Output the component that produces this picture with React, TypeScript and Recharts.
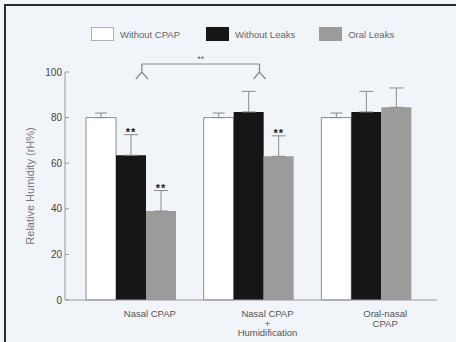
import React from "react";
import {
  BarChart,
  Bar,
  XAxis,
  YAxis,
  ErrorBar,
  Legend,
  ReferenceLine,
  Rectangle,
} from "recharts";

const categories = ["Nasal CPAP", "Nasal CPAP\n+\nHumidification", "Oral-nasal\nCPAP"];
const withoutCpap = [80, 80, 80];
const withoutCpapErr = [2, 2, 2];
const withoutLeaks = [63.5, 82.5, 82.5];
const withoutLeaksErr = [9, 9, 9];
const oralLeaks = [39, 63, 84.5];
const oralLeaksErr = [9, 9, 8.5];
const sigLeaks = ["**", "", ""];
const sigOral = ["**", "**", ""];
const yTicks = [0, 20, 40, 60, 80, 100];
const bracketLevel = 103.5;
const bracketLabel = "**";

const data = categories.map((name, i) => ({
  name,
  cpap: withoutCpap[i],
  cpapErr: [0, withoutCpapErr[i]],
  leaks: withoutLeaks[i],
  leaksErr: [0, withoutLeaksErr[i]],
  oral: oralLeaks[i],
  oralErr: [0, oralLeaksErr[i]],
  sigLeaks: sigLeaks[i],
  sigOral: sigOral[i],
}));

const series = [
  { key: "cpap", name: "Without CPAP", fill: "#ffffff", stroke: "#8c8c8c" },
  { key: "leaks", name: "Without Leaks", fill: "#161616", stroke: "#161616" },
  { key: "oral", name: "Oral Leaks", fill: "#9b9b9b", stroke: "#9b9b9b" },
];

const FONT = '"Liberation Sans", Arial, sans-serif';
const BAR = 30;

// bar with the significance stars sitting over its error whisker
const starBar = (valueKey: string, errKey: string, sigKey: string) => (props: any) => {
  const { x, y, width, height, payload } = props;
  const v = payload[valueKey];
  const ppu = v ? height / v : 0;
  const capY = y + height - (v + payload[errKey][1]) * ppu;
  return (
    <g>
      <Rectangle {...props} />
      {payload[sigKey] ? (
        <text
          x={x + width / 2}
          y={capY + 1}
          textAnchor="middle"
          fontSize={11}
          fontWeight="bold"
          fill="#222"
          fontFamily={FONT}
          letterSpacing={1}
        >
          {payload[sigKey]}
        </text>
      ) : null}
    </g>
  );
};

const Bracket = (props: any) => {
  const { x1, y1, x2 } = props;
  const off = BAR / 2 - 4;
  const a = x1 + off;
  const b = x2 + off;
  const fork = (fx: number) => (
    <path d={`M${fx},${y1} L${fx},${y1 + 8} M${fx - 6},${y1 + 15} L${fx},${y1 + 8} L${fx + 6},${y1 + 15}`} fill="none" stroke="#8c8c8c" strokeWidth={1.3} />
  );
  return (
    <g>
      <line x1={a} y1={y1} x2={b} y2={y1} stroke="#8c8c8c" strokeWidth={1} />
      {fork(a)}
      {fork(b)}
      <text x={(a + b) / 2} y={y1 - 2} textAnchor="middle" fontSize={9} fill="#666" fontFamily={FONT}>
        {bracketLabel}
      </text>
    </g>
  );
};

const CategoryTick = (props: any) => {
  const { x, y, payload } = props;
  const lines = String(payload.value).split("\n");
  return (
    <text x={x + 19} y={y} textAnchor="middle" fontSize={9.5} fill="#555" fontFamily={FONT}>
      {lines.map((l, i) => (
        <tspan key={i} x={x + 19} dy={i === 0 ? 9 : 9.5}>
          {l}
        </tspan>
      ))}
    </text>
  );
};

// ticks point into the plot in the original
const ValueTick = (props: any) => {
  const { x, y, payload } = props;
  return (
    <g>
      <line x1={x + 3} y1={y} x2={x + 7} y2={y} stroke="#9a9a9a" />
      <text x={x} y={y} dy={3.5} textAnchor="end" fontSize={10} fill="#444" fontFamily={FONT}>
        {payload.value}
      </text>
    </g>
  );
};

const LegendBoxes = () => (
  <div style={{ height: 50, display: "flex", alignItems: "flex-start", paddingLeft: 91, fontFamily: FONT }}>
    {series.map((s, i) => (
      <div key={s.key} style={{ display: "flex", alignItems: "center", marginRight: i === 0 ? 26 : 24 }}>
        <div style={{ width: 21, height: 12, background: s.fill, border: `1px solid ${s.stroke === "#8c8c8c" ? "#b0b0b0" : s.stroke}` }} />
        <span style={{ fontSize: 9.5, color: "#666", marginLeft: 6 }}>{s.name}</span>
      </div>
    ))}
  </div>
);

export default function App() {
  return (
    <div style={{ position: "fixed", left: 0, top: 0, width: 456, height: 342, background: "#f1f4f9", overflow: "hidden" }}>
      <div style={{ position: "absolute", left: 4, top: 4, width: 470, height: 360, borderLeft: "2px solid #2b2b2b", borderTop: "2px solid #2b2b2b" }} />
      <BarChart
        width={456}
        height={342}
        data={data}
        margin={{ top: 22, right: 19, bottom: 0, left: 0 }}
        barSize={BAR}
        barGap={0}
        style={{ position: "absolute", left: 0, top: 0 }}
      >
        <Legend verticalAlign="top" wrapperStyle={{ top: 27, left: 0, width: 456 }} content={<LegendBoxes />} />
        <XAxis
          dataKey="name"
          height={42}
          axisLine={{ stroke: "#9a9a9a" }}
          tickLine={false}
          tick={<CategoryTick />}
          padding={{ left: 7, right: 12 }}
          interval={0}
        />
        <YAxis
          width={65}
          domain={[0, 100]}
          ticks={yTicks}
          axisLine={{ stroke: "#9a9a9a" }}
          tickLine={false}
          tickSize={0}
          tickMargin={3}
          tick={<ValueTick />}
          label={{ value: "Relative Humidity (rH%)", angle: -90, position: "center", fontSize: 11, fill: "#777", fontFamily: FONT, dx: -2 }}
        />
        <ReferenceLine
          segment={[
            { x: categories[0], y: bracketLevel },
            { x: categories[1], y: bracketLevel },
          ]}
          ifOverflow="visible"
          shape={<Bracket />}
        />
        <Bar dataKey="cpap" name={series[0].name} fill={series[0].fill} stroke={series[0].stroke} strokeWidth={1} isAnimationActive={false}>
          <ErrorBar dataKey="cpapErr" width={6} stroke="#8c8c8c" strokeWidth={1} />
        </Bar>
        <Bar dataKey="leaks" name={series[1].name} fill={series[1].fill} isAnimationActive={false} shape={starBar("leaks", "leaksErr", "sigLeaks")}>
          <ErrorBar dataKey="leaksErr" width={7} stroke="#8c8c8c" strokeWidth={1} />
        </Bar>
        <Bar dataKey="oral" name={series[2].name} fill={series[2].fill} isAnimationActive={false} shape={starBar("oral", "oralErr", "sigOral")}>
          <ErrorBar dataKey="oralErr" width={7} stroke="#8c8c8c" strokeWidth={1} />
        </Bar>
      </BarChart>
    </div>
  );
}
